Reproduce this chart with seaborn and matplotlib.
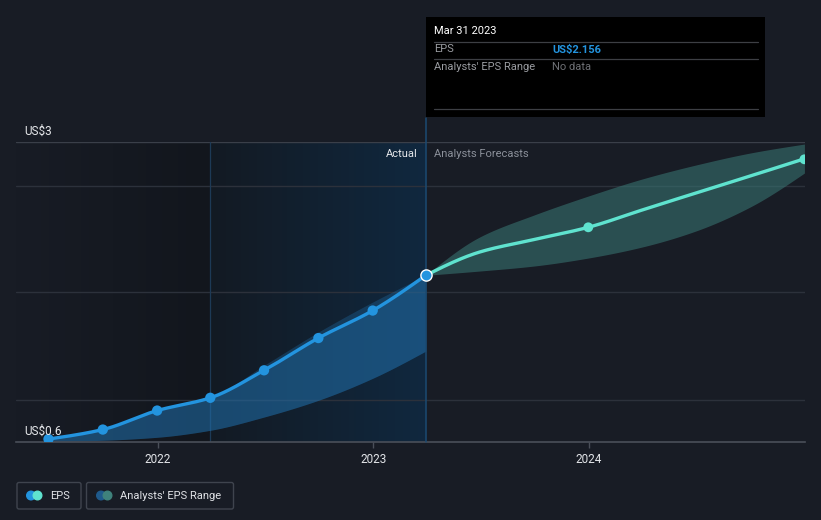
import numpy as np
import pandas as pd
import matplotlib
matplotlib.use("Agg")
import matplotlib.pyplot as plt
import matplotlib.dates as mdates
from matplotlib.patches import FancyBboxPatch, Rectangle, Circle
from matplotlib.colors import LinearSegmentedColormap
import seaborn as sns

# ---------------- data ----------------
actual_dates = ["2021-06-30", "2021-09-30", "2021-12-31", "2022-03-31",
                "2022-06-30", "2022-09-30", "2022-12-31", "2023-03-31"]
actual_eps = [0.626, 0.702, 0.854, 0.956, 1.176, 1.434, 1.654, 1.936]
past_range_upper = [0.626, 0.702, 0.854, 0.956, 1.216, 1.482, 1.722, 1.936]
past_range_lower = [0.606, 0.616, 0.640, 0.696, 0.802, 0.936, 1.112, 1.330]

forecast_point_dates = ["2023-12-31", "2024-12-31"]
forecast_point_eps = [2.320, 2.864]

forecast_dates = ["2023-03-31", "2023-06-30", "2023-09-30", "2023-12-31",
                  "2024-03-31", "2024-06-30", "2024-09-30", "2024-12-31"]
forecast_eps = [1.936, 2.122, 2.222, 2.320, 2.458, 2.594, 2.730, 2.868]
range_upper = [1.936, 2.242, 2.418, 2.570, 2.706, 2.818, 2.914, 2.986]
range_lower = [1.936, 1.970, 2.010, 2.074, 2.162, 2.290, 2.482, 2.754]

x_tick_dates = ["2022-01-01", "2023-01-01", "2024-01-01"]
x_tick_labels = ["2022", "2023", "2024"]
y_label_values = [3.0, 0.6]
y_label_texts = ["US$3", "US$0.6"]
grid_values = [3.0, 2.653, 1.8, 0.941]

tooltip_date = "Mar 31 2023"
tooltip_eps = "US$2.156"

# ---------------- helpers ----------------
def dnum(lst):
    return mdates.date2num(pd.to_datetime(lst))


def monotone(x, y, n=40):
    x = np.asarray(x, float)
    y = np.asarray(y, float)
    h = np.diff(x)
    d = np.diff(y) / h
    m = np.zeros_like(y)
    for i in range(1, len(y) - 1):
        if d[i - 1] * d[i] <= 0:
            m[i] = 0
        else:
            m[i] = 3 * (h[i - 1] + h[i]) / ((2 * h[i] + h[i - 1]) / d[i - 1]
                                            + (h[i] + 2 * h[i - 1]) / d[i])
    if len(y) > 2:
        m[0] = (3 * d[0] - m[1]) / 2
        m[-1] = (3 * d[-1] - m[-2]) / 2
    else:
        m[0] = m[-1] = d[0]
    xs, ys = [], []
    for i in range(len(h)):
        t = np.linspace(0, 1, n, endpoint=(i == len(h) - 1))
        h00 = 2 * t**3 - 3 * t**2 + 1
        h10 = t**3 - 2 * t**2 + t
        h01 = -2 * t**3 + 3 * t**2
        h11 = t**3 - t**2
        xs.append(x[i] + t * h[i])
        ys.append(h00 * y[i] + h10 * h[i] * m[i] + h01 * y[i + 1] + h11 * h[i] * m[i + 1])
    return np.concatenate(xs), np.concatenate(ys)


# ---------------- style ----------------
BG = "#181c25"
BLUE = "#2394df"
TEAL = "#5fe3cf"
sns.set_theme(style="dark")
plt.rcParams["font.family"] = ["Roboto", "DejaVu Sans"]

W, H = 821, 520
fig = plt.figure(figsize=(W / 100, H / 100), dpi=100, facecolor=BG)

px_left, px_right, px_top, px_bottom = 16, 805, 142.3, 442.3
ax = fig.add_axes([px_left / W, (H - px_bottom) / H,
                   (px_right - px_left) / W, (px_bottom - px_top) / H])
ax.set_facecolor(BG)

xa = dnum(actual_dates)
xf = dnum(forecast_dates)
xt = dnum(x_tick_dates)
x_left = xt[0] - 240
x_right = dnum(["2025-01-01"])[0]

# background shading (past / last-year highlight)
x_split = xa[3]
x_now = xa[-1]
cm1 = LinearSegmentedColormap.from_list("c1", ["#181c25", "#12161d"])
cm2 = LinearSegmentedColormap.from_list("c2", ["#131a23", "#10283f"])
grad = np.linspace(0, 1, 256)[None, :]
ax.imshow(grad, cmap=cm1, extent=[x_left, x_split, 0.6, 3.0], aspect="auto", zorder=0)
ax.imshow(grad, cmap=cm2, extent=[x_split, x_now, 0.6, 3.0], aspect="auto", zorder=0)
ax.set_xlim(x_left, x_right)
ax.set_ylim(0.6, 3.0)

# gridlines
for gv in grid_values:
    ax.axhline(gv, color="#2c313b" if gv != 3.0 else "#3a3f49", lw=1, zorder=1)
ax.axvline(x_split, color="#1d3a56", lw=0.9, zorder=1)

# past range band
sx, su = monotone(xa, past_range_upper)
_, sl = monotone(xa, past_range_lower)
_, se = monotone(xa, actual_eps)
ax.fill_between(sx, su, sl, color="#1f6aa3", alpha=0.35, lw=0, zorder=2)
ax.fill_between(sx, se, sl, color="#2378b8", alpha=0.30, lw=0, zorder=2)

# forecast band
fx, fu = monotone(xf, range_upper)
_, fl = monotone(xf, range_lower)
_, fe = monotone(xf, forecast_eps)
ax.fill_between(fx, fu, fl, color="#3a7a76", alpha=0.55, lw=0, zorder=2)

# lines
sns.lineplot(x=sx, y=se, ax=ax, color=BLUE, lw=2.4, zorder=4, sort=False)
sns.lineplot(x=fx, y=fe, ax=ax, color=TEAL, lw=2.4, zorder=4, sort=False)

# markers
sns.scatterplot(x=xa[:-1], y=actual_eps[:-1], ax=ax, color=BLUE, s=55,
                edgecolor="none", zorder=5)
sns.scatterplot(x=dnum(forecast_point_dates), y=forecast_point_eps, ax=ax,
                color=TEAL, s=50, edgecolor="none", zorder=5)
sns.scatterplot(x=[xa[-1]], y=[actual_eps[-1]], ax=ax, color=BLUE, s=65,
                edgecolor="white", linewidth=1.0, zorder=6)

# current vertical line (extends above axes to tooltip)
ax.plot([x_now, x_now], [0.6, 3.0 + 24.5 / 125], color="#1b4a72", lw=1.1,
        zorder=3, clip_on=False)

# axes styling
for s in ["top", "right", "left"]:
    ax.spines[s].set_visible(False)
ax.spines["bottom"].set_color("#4a4f59")
ax.spines["bottom"].set_linewidth(1.2)
ax.set_xticks(xt)
ax.set_xticklabels(x_tick_labels, color="#e2e4e8", fontsize=8.5)
ax.tick_params(axis="x", length=4, width=1, color="#4a4f59", pad=4, bottom=True)
ax.set_yticks([])
ax.grid(False)
ax.set_xlabel("")
ax.set_ylabel("")

for v, t in zip(y_label_values, y_label_texts):
    ax.text(x_left + 8 / 0.5906, v + 4 / 125, t, color="#e6e8eb", fontsize=8.5,
            va="bottom", ha="left", zorder=7)

ax.text(x_now - 8 / 0.5906, 3.0 - 12 / 125, "Actual", color="#e6e8eb",
        fontsize=8, ha="right", va="center", zorder=7)
ax.text(x_now + 8 / 0.5906, 3.0 - 12 / 125, "Analysts Forecasts", color="#8b909a",
        fontsize=8, ha="left", va="center", zorder=7)

# ---------------- overlay (tooltip + legend) in pixel coords ----------------
ov = fig.add_axes([0, 0, 1, 1], zorder=10)
ov.set_xlim(0, W)
ov.set_ylim(H, 0)
ov.axis("off")
ov.patch.set_alpha(0)

ov.add_patch(Rectangle((426, 17), 339, 100, facecolor="#000000", edgecolor="none"))
ov.text(434, 31, tooltip_date, color="#ffffff", fontsize=8, va="center", ha="left")
for yy in [41.5, 58.5, 109]:
    ov.plot([434, 758], [yy, yy], color="#3d3f44", lw=0.9)
ov.text(434, 49.5, "EPS", color="#9a9ca1", fontsize=8, va="center")
ov.text(552, 49.5, tooltip_eps, color=BLUE, fontsize=8, va="center", fontweight="bold")
ov.text(434, 66.5, "Analysts' EPS Range", color="#9a9ca1", fontsize=8, va="center")
ov.text(552, 66.5, "No data", color="#6e7075", fontsize=8, va="center")

# legend
ov.add_patch(FancyBboxPatch((17, 482.5), 64, 26.5, boxstyle="round,pad=0,rounding_size=2",
                            facecolor="none", edgecolor="#3f444e", lw=1))
ov.add_patch(Circle((31, 495.5), 4.3, color=BLUE))
ov.add_patch(Circle((37.5, 495.5), 4.3, color=TEAL))
ov.text(50, 496, "EPS", color="#e0e2e6", fontsize=8, va="center")
ov.add_patch(FancyBboxPatch((86.5, 482.5), 147, 26.5, boxstyle="round,pad=0,rounding_size=2",
                            facecolor="none", edgecolor="#3f444e", lw=1))
ov.add_patch(Circle((101, 495.5), 4.3, color="#1f5a8c"))
ov.add_patch(Circle((107.5, 495.5), 4.3, color="#3f827c"))
ov.text(120, 496, "Analysts' EPS Range", color="#e0e2e6", fontsize=8, va="center")

fig.savefig("out.png", dpi=100, facecolor=BG)
